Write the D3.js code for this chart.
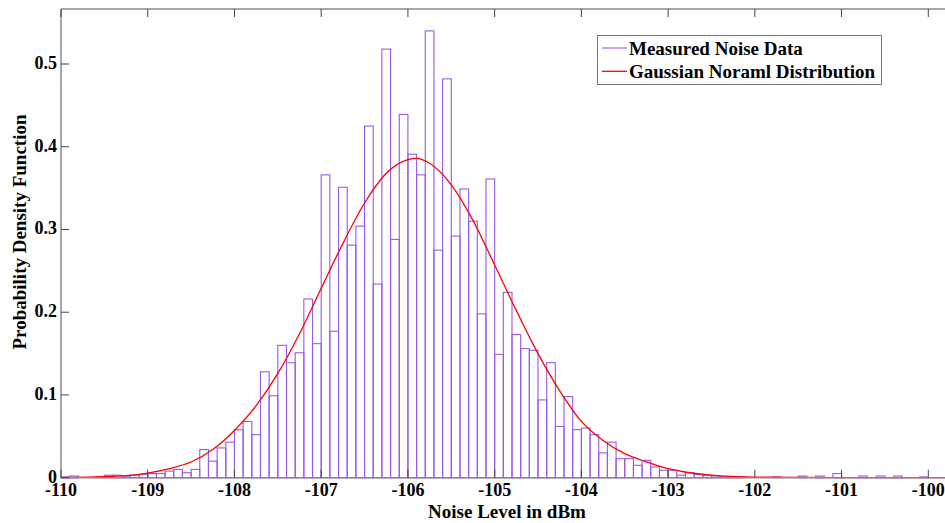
<!DOCTYPE html>
<html>
<head>
<meta charset="utf-8">
<script src="https://cdn.jsdelivr.net/npm/d3@7"></script>
<style>
  html, body { margin: 0; padding: 0; background: #fff; }
  svg { display: block; }
  text { font-family: "Liberation Serif", "Times New Roman", serif; font-weight: bold; fill: #000; }
</style>
</head>
<body>
<div id="chart"></div>
<script>
// Histogram: bins of 0.1 dBm starting at -110 dBm
let binStart = -110, binWidth = 0.1;
let density = [
  0.001, 0.002, 0, 0, 0.001, 0.003, 0.003, 0.001, 0.003, 0.004,
  0.005, 0.005, 0.008, 0.010, 0.006, 0.010, 0.034, 0.020, 0.036, 0.043,
  0.058, 0.068, 0.052, 0.128, 0.099, 0.160, 0.139, 0.151, 0.216, 0.162,
  0.366, 0.177, 0.351, 0.281, 0.304, 0.425, 0.234, 0.518, 0.288, 0.439,
  0.391, 0.366, 0.540, 0.275, 0.482, 0.292, 0.349, 0.310, 0.198, 0.361,
  0.149, 0.224, 0.173, 0.156, 0.154, 0.094, 0.139, 0.062, 0.098, 0.058,
  0.060, 0.052, 0.030, 0.043, 0.023, 0.023, 0.015, 0.021, 0.013, 0.009,
  0.009, 0.003, 0.006, 0.004, 0.003, 0.002, 0.001, 0.001, 0.001, 0,
  0, 0, 0.001, 0, 0, 0.002, 0, 0.002, 0, 0.005,
  0, 0, 0.002, 0, 0.002, 0, 0.002, 0, 0, 0.001
];

// Fitted gaussian curve
let curveX = [-110, -109.5, -109, -108.75, -108.5, -108.25, -108, -107.75, -107.5, -107.25,
  -107, -106.75, -106.5, -106.25, -106, -105.9, -105.75, -105.5, -105.25, -105, -104.75,
  -104.5, -104.25, -104, -103.75, -103.5, -103.25, -103, -102.75, -102.5, -102, -101, -99.5];
let curveY = [0.0002, 0.0012, 0.0055, 0.011, 0.019, 0.034, 0.057, 0.087, 0.126, 0.174,
  0.229, 0.283, 0.332, 0.368, 0.3845, 0.386, 0.380, 0.354, 0.311, 0.257, 0.202,
  0.150, 0.105, 0.068, 0.045, 0.029, 0.019, 0.011, 0.006, 0.003, 0.0007, 0, 0];

let xTicks = [-110, -109, -108, -107, -106, -105, -104, -103, -102, -101, -100];
let yTicks = [0, 0.1, 0.2, 0.3, 0.4, 0.5];
let seriesNames = ['Measured Noise Data', 'Gaussian Noraml Distribution'];
let colors = ['#9b59e0', '#ff0000'];

let W = 945, H = 523;
let margin = {top: 9, left: 61, bottom: 45};
let plotRight = 955;

let svg = d3.select('#chart').append('svg')
  .attr('width', W).attr('height', H);

let x = d3.scaleLinear().domain([-110, -100]).range([margin.left, 928.3]);
let y = d3.scaleLinear().domain([0, 0.5]).range([H - margin.bottom - 0.3, 64]);

let plot = svg.append('g');

// Bars
plot.selectAll('.bar')
  .data(density)
  .enter()
  .append('rect')
    .attr('class', 'bar')
    .attr('x', (d, i) => x(binStart + i * binWidth))
    .attr('width', (d, i) => x(binStart + (i + 1) * binWidth) - x(binStart + i * binWidth))
    .attr('y', d => y(d))
    .attr('height', d => y(0) - y(d))
    .attr('fill', 'none')
    .attr('stroke', colors[0])
    .attr('stroke-width', 1.1);

// Gaussian curve
let line = d3.line()
  .x((d, i) => x(curveX[i]))
  .y(d => y(d))
  .curve(d3.curveMonotoneX);

plot.append('path')
  .datum(curveY)
  .attr('fill', 'none')
  .attr('stroke', colors[1])
  .attr('stroke-width', 1.3)
  .attr('d', line);

// Frame
let y0 = y(0), yTop = margin.top;
svg.append('line').attr('x1', margin.left).attr('x2', plotRight).attr('y1', yTop).attr('y2', yTop)
  .attr('stroke', '#888').attr('stroke-width', 1.5);
svg.append('line').attr('x1', margin.left).attr('x2', plotRight).attr('y1', y0).attr('y2', y0)
  .attr('stroke', '#888').attr('stroke-width', 1.5);
svg.append('line').attr('x1', margin.left).attr('x2', margin.left).attr('y1', yTop).attr('y2', y0)
  .attr('stroke', '#888').attr('stroke-width', 1.5);

// X ticks (bottom and top, inward)
let tickLen = 8;
xTicks.forEach(function(t) {
  svg.append('line').attr('x1', x(t)).attr('x2', x(t)).attr('y1', y0).attr('y2', y0 - tickLen)
    .attr('stroke', '#444').attr('stroke-width', 1);
  svg.append('line').attr('x1', x(t)).attr('x2', x(t)).attr('y1', yTop).attr('y2', yTop + tickLen)
    .attr('stroke', '#444').attr('stroke-width', 1);
  svg.append('text')
    .attr('x', x(t)).attr('y', 496)
    .attr('text-anchor', 'middle')
    .attr('font-size', 18)
    .text(t);
});

// Y ticks
yTicks.forEach(function(t) {
  svg.append('line').attr('x1', margin.left).attr('x2', margin.left + tickLen).attr('y1', y(t)).attr('y2', y(t))
    .attr('stroke', '#444').attr('stroke-width', 1);
  svg.append('text')
    .attr('x', 57).attr('y', y(t) + 5)
    .attr('text-anchor', 'end')
    .attr('font-size', 18)
    .text(t);
});

// Axis labels
svg.append('text')
  .attr('x', 507).attr('y', 518)
  .attr('text-anchor', 'middle')
  .attr('font-size', 19)
  .text('Noise Level in dBm');

svg.append('text')
  .attr('transform', 'translate(26,232) rotate(-90)')
  .attr('text-anchor', 'middle')
  .attr('font-size', 19)
  .text('Probability Density Function');

// Legend
let legend = svg.append('g');
legend.append('rect')
  .attr('x', 597.5).attr('y', 35.5).attr('width', 284).attr('height', 49)
  .attr('fill', '#fff').attr('stroke', '#777').attr('stroke-width', 1);

seriesNames.forEach(function(name, i) {
  let ly = 48 + i * 23.3;
  legend.append('line')
    .attr('x1', 602).attr('x2', 627).attr('y1', ly).attr('y2', ly)
    .attr('stroke', colors[i]).attr('stroke-width', i == 0 ? 1.1 : 1.3);
  legend.append('text')
    .attr('x', 629).attr('y', ly + 6.5)
    .attr('font-size', 19)
    .text(name);
});
</script>
</body>
</html>
